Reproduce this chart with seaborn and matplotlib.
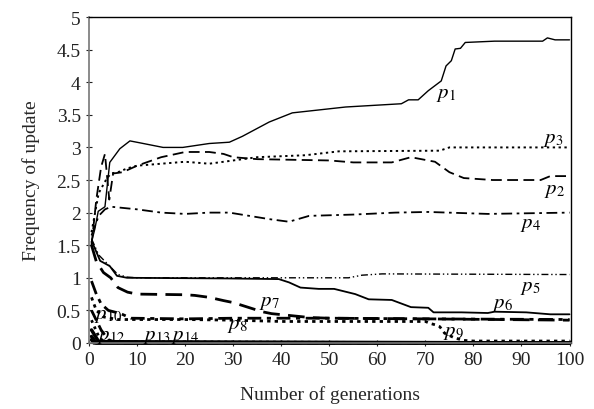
import matplotlib
matplotlib.use("Agg")
import matplotlib.pyplot as plt
import seaborn as sns
import pandas as pd

sns.set_style("ticks")
plt.rcParams['font.family'] = ['Liberation Serif', 'DejaVu Serif']
plt.rcParams['mathtext.fontset'] = 'stix'

# ---- data ----
p1_x = [0.5, 1.2, 1.9, 3.3, 4.3, 6.4, 8.5, 10.6, 15.4, 19.5, 25, 29.2, 31.9, 37.5, 42.3, 53.4, 65, 66.5, 68.5,
        70.6, 73.3, 74.3, 75.4, 76.2, 77.3, 78.3, 84.4, 94.4, 95.4, 97, 100]
p1_y = [1.55, 1.75, 2.02, 2.09, 2.77, 2.98, 3.1, 3.07, 3.0, 3.0, 3.06, 3.08, 3.17, 3.39, 3.53, 3.62, 3.67, 3.73, 3.73,
        3.87, 4.02, 4.25, 4.33, 4.51, 4.52, 4.61, 4.63, 4.63, 4.68, 4.65, 4.65]

p2_x = [0.5, 1.5, 2.5, 3.3, 4.2, 5, 7, 10, 15, 20, 25, 28, 30, 35, 50, 55, 63, 67, 72, 75, 78, 84, 94, 96, 100]
p2_y = [1.5, 2.2, 2.7, 2.9, 2.2, 2.6, 2.62, 2.72, 2.85, 2.93, 2.93, 2.9, 2.85, 2.82, 2.8, 2.77, 2.77, 2.85, 2.78,
        2.62, 2.53, 2.5, 2.5, 2.56, 2.56]

p3_x = [0.5, 2, 3.5, 4.5, 6, 8, 10, 15, 20, 25, 30, 35, 45, 52, 73, 75, 100]
p3_y = [1.7, 2.3, 2.5, 2.6, 2.62, 2.68, 2.72, 2.75, 2.78, 2.75, 2.8, 2.85, 2.88, 2.94, 2.95, 3.0, 3.0]

p4_x = [0.5, 2, 3.3, 4.6, 10, 15, 20, 25, 29.2, 37.5, 41.6, 45.8, 55, 63.7, 70.6, 83, 100]
p4_y = [1.65, 1.95, 2.05, 2.09, 2.05, 2.0, 1.98, 2.0, 2.0, 1.9, 1.86, 1.95, 1.97, 2.0, 2.01, 1.98, 2.0]

p5_x = [0.5, 2, 4, 6, 8, 10, 30, 54, 56.8, 61, 100]
p5_y = [1.6, 1.35, 1.2, 1.05, 1.01, 1.0, 1.0, 1.0, 1.04, 1.06, 1.05]

p6_x = [0.5, 0.8, 2.3, 4.3, 5.8, 7.9, 29, 39.5, 41.6, 44, 47.8, 51, 55.4, 58.2, 63, 67, 70.6, 71.7, 77.5, 83,
        84.4, 91, 96, 100]
p6_y = [1.55, 1.52, 1.26, 1.18, 1.03, 1.0, 0.99, 0.98, 0.93, 0.85, 0.83, 0.83, 0.75, 0.67, 0.66, 0.55, 0.54, 0.47,
        0.47, 0.46, 0.48, 0.47, 0.44, 0.44]

p7_x = [0.5, 1.5, 3, 4.5, 6, 8, 10, 20, 22, 25, 28, 30, 33, 36, 38, 42, 46, 50, 70, 100]
p7_y = [1.5, 1.25, 1.08, 1.0, 0.85, 0.78, 0.75, 0.74, 0.73, 0.7, 0.65, 0.62, 0.55, 0.48, 0.45, 0.42, 0.39, 0.38,
        0.37, 0.35]

p8_x = [0.5, 1.5, 2.5, 4, 6.6, 8.7, 20, 30, 50, 70, 100]
p8_y = [0.95, 0.75, 0.6, 0.5, 0.45, 0.38, 0.37, 0.38, 0.38, 0.37, 0.36]

p9_x = [0.5, 1.5, 3, 6, 20, 30, 40, 70, 71, 72, 73, 74, 76, 78, 80, 100]
p9_y = [0.7, 0.5, 0.4, 0.36, 0.36, 0.35, 0.33, 0.33, 0.3, 0.28, 0.25, 0.15, 0.08, 0.04, 0.03, 0.03]

p10_x = [0.5, 1.5, 2.5, 4, 6, 100]
p10_y = [0.5, 0.35, 0.2, 0.05, 0.0, 0.0]
p11_x = [0.5, 2, 3, 100]
p11_y = [0.35, 0.1, 0.02, 0.0]
p12_x = [0.5, 2, 100]
p12_y = [0.2, 0.02, 0.0]
p13_x = [0.5, 1.5, 100]
p13_y = [0.1, 0.0, 0.0]
p14_x = [0.5, 1, 100]
p14_y = [0.05, 0.0, 0.0]

x_ticks = list(range(0, 101, 10))
y_ticks = [0, 0.5, 1, 1.5, 2, 2.5, 3, 3.5, 4, 4.5, 5]
y_ticklabels = ["0", "0.5", "1", "1.5", "2", "2.5", "3", "3.5", "4", "4.5", "5"]

labels = ["p1", "p2", "p3", "p4", "p5", "p6", "p7", "p8", "p9", "p10", "p12", "p13", "p14"]
label_x = [74.3, 96.9, 96.5, 91.9, 91.9, 86.1, 37.5, 30.8, 75.8, 4.0, 4.6, 14.0, 20.0]
label_y = [3.82, 2.36, 3.13, 1.83, 0.86, 0.6, 0.64, 0.28, 0.18, 0.43, 0.12, 0.12, 0.12]

# ---- styles ----
series = [
    (p1_x, p1_y, '-', 1.0, True),
    (p2_x, p2_y, (0, (6, 3)), 1.3, True),
    (p3_x, p3_y, (0, (1.2, 1.8)), 1.4, True),
    (p4_x, p4_y, (0, (6, 2.5, 1.5, 2.5)), 1.3, True),
    (p5_x, p5_y, (0, (5, 2, 1, 2, 1, 2)), 1.0, True),
    (p6_x, p6_y, '-', 1.3, True),
    (p7_x, p7_y, (0, (6, 3)), 2.0, True),
    (p8_x, p8_y, (0, (5, 2, 1.5, 2)), 2.0, True),
    (p9_x, p9_y, (0, (1.2, 1.5)), 2.0, True),
    (p10_x, p10_y, (0, (4, 2)), 2.0, False),
    (p11_x, p11_y, (0, (1, 1.5)), 2.0, False),
    (p12_x, p12_y, '-', 2.5, False),
    (p13_x, p13_y, '-', 2.5, False),
    (p14_x, p14_y, '-', 2.5, False),
]

fig = plt.figure(figsize=(5.94, 4.10), dpi=100)
ax = fig.add_axes([0.150, 0.161, 0.812, 0.795])

for xs, ys, ls, lw, clip in series:
    df = pd.DataFrame({"x": xs, "y": ys})
    sns.lineplot(data=df, x="x", y="y", ax=ax, color="black", linewidth=lw,
                 linestyle=ls, estimator=None, legend=False, clip_on=clip)

for lab, lx, ly in zip(labels, label_x, label_y):
    ax.text(lx, ly, r"$p_{%s}$" % lab[1:], fontsize=15, ha="center", va="center", color="black")

ax.set_xlim(0, 100.4)
ax.set_ylim(0, 5)
ax.set_xticks(x_ticks)
ax.set_yticks(y_ticks)
ax.set_yticklabels(y_ticklabels)
ax.set_xlabel("Number of generations", fontsize=14, labelpad=12)
ax.set_ylabel("Frequency of update", fontsize=14, labelpad=12)
ax.tick_params(axis="both", labelsize=14, direction="inout", length=5, width=0.8, colors="#222222")

for side in ["top", "right"]:
    ax.spines[side].set_visible(True)
    ax.spines[side].set_color("black")
    ax.spines[side].set_linewidth(1.0)
for side in ["left", "bottom"]:
    ax.spines[side].set_color("#777777")
    ax.spines[side].set_linewidth(1.2)

fig.savefig("out.png", dpi=100)
